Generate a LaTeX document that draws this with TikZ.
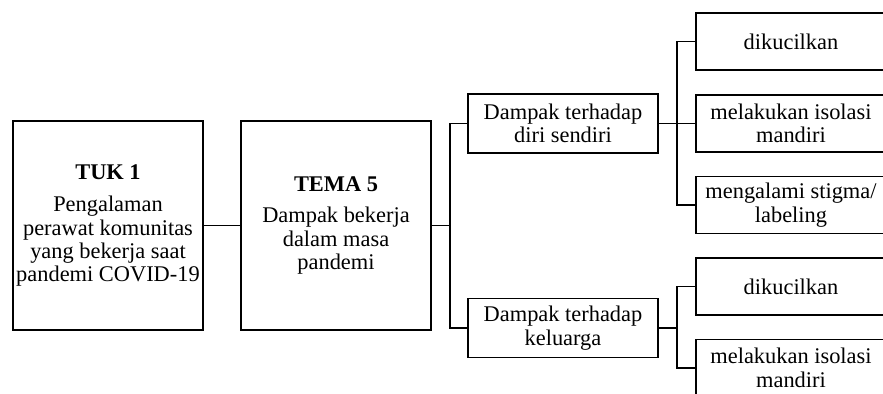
\documentclass[tikz,border=0pt]{standalone}
\usepackage{fontspec}
\setmainfont{Liberation Serif}
\begin{document}
\begin{tikzpicture}[x=0.5pt,y=-0.5pt,
  every node/.style={font=\fontsize{11.2pt}{11.7pt}\selectfont},
  bigbox/.style={draw,line width=0.9pt,align=center,inner sep=0pt,minimum width=95pt,minimum height=104.5pt},
  midbox/.style={draw,line width=0.9pt,align=center,inner sep=0pt,minimum width=95pt,minimum height=29.5pt},
  leafbox/.style={draw,line width=0.9pt,align=center,inner sep=0pt,minimum width=95pt,minimum height=28.5pt},
  conn/.style={line width=0.9pt}]
\clip (0,0) rectangle (883,393);
\fill[white] (0,0) rectangle (883,393);
\node[bigbox] (tuk) at (108,225.5) {\textbf{TUK 1}\\[4.5pt]Pengalaman\\perawat komunitas\\yang bekerja saat\\pandemi COVID-19};
\node[bigbox] (tema) at (336,225.5) {\textbf{TEMA 5}\\[4pt]Dampak bekerja\\dalam masa\\pandemi};
\node[midbox] (diri) at (563,123.5) {Dampak terhadap\\diri sendiri};
\node[midbox] (kel) at (563,328) {Dampak terhadap\\keluarga};
\node[leafbox] (r1) at (791,41.5) {dikucilkan};
\node[leafbox] (r2) at (791,123.5) {melakukan isolasi\\mandiri};
\node[leafbox] (r3) at (791,205) {mengalami stigma/\\labeling};
\node[leafbox] (r4) at (791,286.5) {dikucilkan};
\node[leafbox] (r5) at (791,368) {melakukan isolasi\\mandiri};
\coordinate (j1) at (450,225.5);
\coordinate (j2) at (677,123.5);
\coordinate (j3) at (677,328);
\draw[conn] (tuk) -- (tema);
\draw[conn] (tema.east) -- (j1);
\draw[conn] (diri.west) -| (j1) |- (kel.west);
\draw[conn] (diri.east) -- (r2.west);
\draw[conn] (r1.west) -| (j2) |- (r3.west);
\draw[conn] (kel.east) -- (j3);
\draw[conn] (r4.west) -| (j3) |- (r5.west);
\end{tikzpicture}
\end{document}
